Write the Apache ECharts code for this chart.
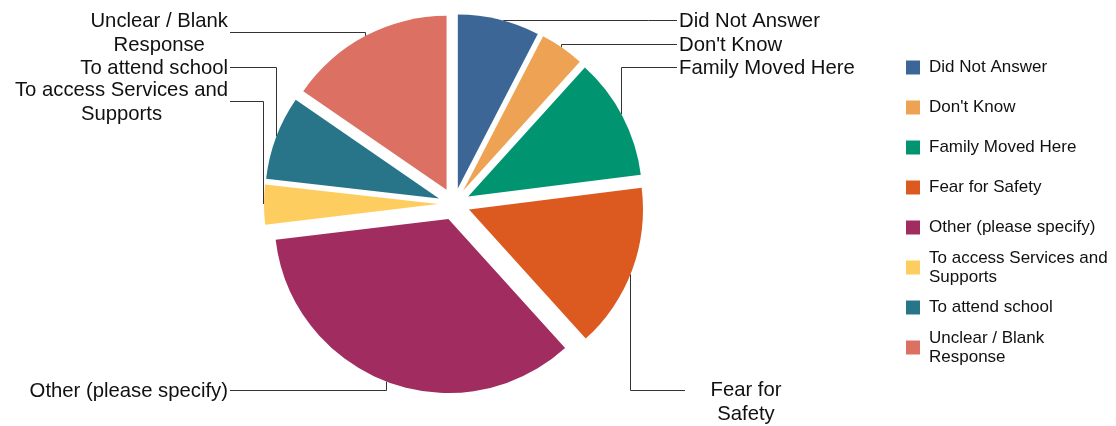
<!DOCTYPE html>
<html>
<head>
<meta charset="utf-8">
<script src="https://cdn.jsdelivr.net/npm/echarts@6/dist/echarts.min.js"></script>
<style>
  html, body { margin: 0; padding: 0; background: #ffffff; }
  #chart { width: 1116px; height: 426px; }
</style>
</head>
<body>
<div id="chart"></div>
<script>
// Reasons given for the move (share of responses, %)
const categories = [
  'Did Not Answer',
  "Don't Know",
  'Family Moved Here',
  'Fear for Safety',
  'Other (please specify)',
  'To access Services and Supports',
  'To attend school',
  'Unclear / Blank Response'
];
const shares = [7.6, 4.1, 11.3, 15.3, 34.8, 3.7, 7.8, 15.4];

// Text shown beside each slice and in the legend
const sliceLabels = [
  'Did Not Answer',
  "Don't Know",
  'Family Moved Here',
  'Fear for\nSafety',
  'Other (please specify)',
  'To access Services and\nSupports',
  'To attend school',
  'Unclear / Blank\nResponse'
];
const legendLabels = [
  'Did Not Answer',
  "Don't Know",
  'Family Moved Here',
  'Fear for Safety',
  'Other (please specify)',
  'To access Services and\nSupports',
  'To attend school',
  'Unclear / Blank\nResponse'
];

const colors = ['#3b6696', '#eea254', '#009470', '#dc5a20', '#a02c60', '#fecd5f', '#28758a', '#db7063'];

// Pie geometry
const CENTER = [454, 204];
const RADIUS = 174;
const EXPLODE = 16;

const total = shares.reduce((a, b) => a + b, 0);

// Centre of a slice after it has been pulled out along its middle angle
function sliceCenter(i) {
  let before = 0;
  for (let k = 0; k < i; k++) before += shares[k];
  const mid = (before + shares[i] / 2) / total * Math.PI * 2;
  return [CENTER[0] + EXPLODE * Math.sin(mid), CENTER[1] - EXPLODE * Math.cos(mid)];
}
// Point on a slice's rim for a vertical leader at x (side -1 = upper rim, +1 = lower rim)
function rimAtX(i, x, side) {
  const c = sliceCenter(i);
  const dx = x - c[0];
  const h = Math.sqrt(Math.max(0, RADIUS * RADIUS - dx * dx));
  return [x, c[1] + side * h];
}
// Point on a slice's rim for a horizontal leader at y (side +1 = right rim, -1 = left rim)
function rimAtY(i, y, side) {
  const c = sliceCenter(i);
  const dy = y - c[1];
  const w = Math.sqrt(Math.max(0, RADIUS * RADIUS - dy * dy));
  return [c[0] + side * w, y];
}

// Where each callout sits and how its leader runs (half-pixel leaders stay crisp)
const callouts = [
  { x: 679, y: 21,  align: 'left',   start: () => rimAtY(0, 20.5, 1),   bend: [648.5, 20.5],  end: [677, 20.5] },
  { x: 679, y: 45,  align: 'left',   start: () => rimAtX(1, 561.5, -1), bend: [561.5, 44.5],  end: [677, 44.5] },
  { x: 679, y: 68,  align: 'left',   start: () => rimAtX(2, 621.5, -1), bend: [621.5, 67.5],  end: [677, 67.5] },
  { x: 746, y: 402, align: 'center', start: () => rimAtX(3, 630.5, 1),  bend: [630.5, 390.5], end: [685, 390.5] },
  { x: 228, y: 391, align: 'right',  start: () => rimAtX(4, 386.5, 1),  bend: [386.5, 390.5], end: [230, 390.5] },
  { x: 228, y: 102, align: 'block',  start: () => rimAtX(5, 263.5, -1), bend: [263.5, 101.5], end: [230, 101.5] },
  { x: 228, y: 68,  align: 'right',  start: () => rimAtX(6, 276.5, -1), bend: [276.5, 67.5],  end: [230, 67.5] },
  { x: 228, y: 33,  align: 'block',  start: () => rimAtX(7, 365.5, -1), bend: [365.5, 32.5],  end: [230, 32.5] }
];

const FONT = 'Liberation Sans, Arial, sans-serif';

// Exploded slices
const sliceData = categories.map((name, i) => ({
  name: name,
  value: shares[i],
  selected: true,
  itemStyle: { color: colors[i] }
}));

// Same values again, carrying only the callouts
const calloutData = categories.map((name, i) => ({
  name: name,
  value: shares[i],
  label: { formatter: sliceLabels[i] }
}));

// One legend block per category so every entry keeps the same 40px pitch
const LEGEND_LINE = 19;
const legends = categories.map((name, i) => {
  const lines = legendLabels[i].split('\n').length;
  const h = Math.max(14, lines * LEGEND_LINE);
  return {
    show: true,
    orient: 'vertical',
    left: 906,
    top: 67.5 + 40 * i - h / 2,
    data: [name],
    selectedMode: false,
    itemWidth: 14,
    itemHeight: 14,
    icon: 'rect',
    padding: 0,
    formatter: () => legendLabels[i],
    textStyle: {
      fontFamily: FONT,
      fontSize: 17,
      lineHeight: LEGEND_LINE,
      color: '#111111',
      padding: [0, 0, 0, 4]
    }
  };
});

const chart = echarts.init(document.getElementById('chart'), null, { renderer: 'canvas' });

chart.setOption({
  backgroundColor: '#ffffff',
  animation: false,
  legend: legends,
  series: [{
    type: 'pie',
    name: 'slices',
    center: CENTER,
    radius: RADIUS,
    startAngle: 90,
    clockwise: true,
    selectedMode: 'multiple',
    selectedOffset: EXPLODE,
    data: sliceData,
    itemStyle: { borderWidth: 0 },
    select: { itemStyle: { borderWidth: 0 } },
    emphasis: { disabled: true },
    label: { show: false },
    labelLine: { show: false }
  }, {
    type: 'pie',
    name: 'callouts',
    center: CENTER,
    radius: RADIUS,
    startAngle: 90,
    clockwise: true,
    selectedMode: false,
    silent: true,
    avoidLabelOverlap: false,
    data: calloutData,
    itemStyle: { color: 'rgba(0,0,0,0)', borderWidth: 0 },
    emphasis: { disabled: true },
    label: {
      show: true,
      position: 'outside',
      fontFamily: FONT,
      fontSize: 20.3,
      lineHeight: 24,
      color: '#111111'
    },
    labelLine: {
      show: true,
      smooth: false,
      length: 10,
      length2: 10,
      lineStyle: { color: '#333333', width: 1 }
    },
    labelLayout: function (params) {
      const c = callouts[params.dataIndex];
      let x = c.x;
      let align = c.align;
      if (align === 'block') {
        // centred lines whose block ends at the leader
        x = c.x - params.labelRect.width / 2;
        align = 'center';
      }
      return {
        x: x,
        y: c.y,
        align: align,
        verticalAlign: 'middle',
        labelLinePoints: [c.start(), c.bend, c.end]
      };
    }
  }]
});
</script>
</body>
</html>
